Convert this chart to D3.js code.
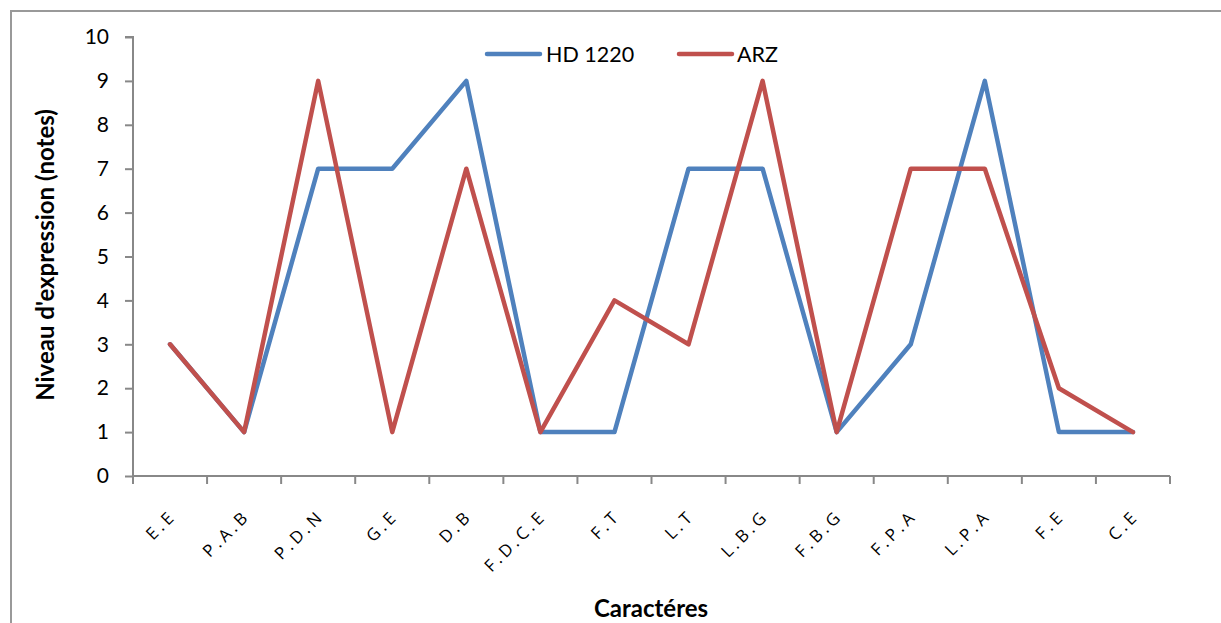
<!DOCTYPE html>
<html><head><meta charset="utf-8">
<script src="https://cdn.jsdelivr.net/npm/d3@7"></script>
<style>body{margin:0;background:#fff;} svg{display:block;font-family:Lato,"Open Sans",sans-serif;}</style>
</head><body>
<svg id="c" width="1221" height="623"></svg>
<script>
const categories = ["E.E","P.A.B","P.D.N","G.E","D.B","F.D.C.E","F.T","L.T","L.B.G","F.B.G","F.P.A","L.P.A","F.E","C.E"];
const hd1220 = [3,1,7,7,9,1,1,7,7,1,3,9,1,1];
const arz = [3,1,9,1,7,1,4,3,9,1,7,7,2,1];
const yTicks = [0,1,2,3,4,5,6,7,8,9,10];
const seriesNames = ["HD 1220","ARZ"];
const colors = ["#4F81BD","#C0504D"];

const svg = d3.select("#c");
svg.append("rect").attr("x",11).attr("y",11).attr("width",1230).attr("height",640)
  .attr("fill","none").attr("stroke","#999").attr("stroke-width",2);

const x0 = 133, x1 = 1170, yTop = 37, yBot = 476;
const x = d3.scaleBand().domain(categories).range([x0,x1]);
const y = d3.scaleLinear().domain([0,10]).range([yBot,yTop]);

// y axis
const ya = svg.append("g").attr("transform",`translate(${x0},0)`)
  .call(d3.axisLeft(y).tickValues(yTicks).tickSize(8).tickPadding(16).tickFormat(d3.format("d")));
ya.select(".domain").attr("stroke","#888").attr("stroke-width",2).attr("d",`M-8,${yTop}H0V${yBot}`);
ya.selectAll(".tick line").attr("stroke","#888").attr("stroke-width",2);
ya.selectAll(".tick text").attr("font-size",21).attr("fill","#000").attr("font-family","Lato,sans-serif");

// x axis
const xa = svg.append("g").attr("transform",`translate(0,${yBot})`);
xa.append("path").attr("d",`M${x0},0H${x1}`).attr("stroke","#888").attr("stroke-width",2).attr("fill","none");
const bounds = categories.map(c=>x(c)).concat([x1]);
xa.selectAll("line.t").data(bounds).join("line").attr("class","t").attr("x1",d=>d).attr("x2",d=>d).attr("y1",0).attr("y2",8)
  .attr("stroke","#888").attr("stroke-width",2);
xa.selectAll("text.lab").data(categories).join("text").attr("class","lab")
  .attr("transform",d=>`translate(${x(d)+x.bandwidth()/2+7},41) rotate(-45)`)
  .attr("text-anchor","end").attr("font-size",17).attr("letter-spacing","3.5px")
  .attr("font-family","'Open Sans',sans-serif").attr("fill","#000").text(d=>d);

// lines
const line = d3.line().x((d,i)=>x(categories[i])+x.bandwidth()/2).y(d=>y(d));
[hd1220, arz].forEach((s,k)=>{
  svg.append("path").datum(s).attr("d",line).attr("fill","none").attr("stroke",colors[k])
    .attr("stroke-width",4.5).attr("stroke-linejoin","round").attr("stroke-linecap","round");
});

// legend
const leg = [{x:487,tx:546},{x:679,tx:737}];
seriesNames.forEach((n,k)=>{
  svg.append("line").attr("x1",leg[k].x).attr("x2",leg[k].x+53).attr("y1",54).attr("y2",54)
    .attr("stroke",colors[k]).attr("stroke-width",4.5).attr("stroke-linecap","round");
  svg.append("text").attr("x",leg[k].tx).attr("y",62).attr("font-size",21.5).attr("fill","#000").text(n);
});

// titles
svg.append("text").attr("transform","translate(54,255) rotate(-90)").attr("text-anchor","middle")
  .attr("font-size",24).attr("font-weight","bold").text("Niveau d'expression (notes)");
svg.append("text").attr("x",651).attr("y",617).attr("text-anchor","middle")
  .attr("font-size",24).attr("font-weight","bold").text("Caractéres");
</script>
</body></html>
